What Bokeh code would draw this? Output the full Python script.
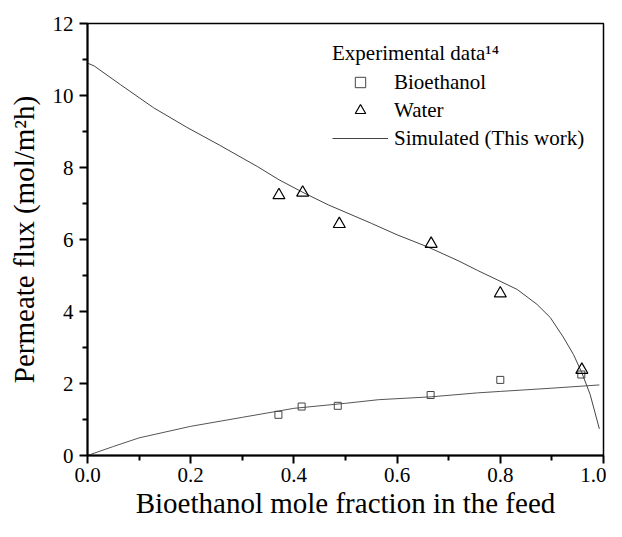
from bokeh.plotting import figure
from bokeh.models import Legend, LegendItem, Range1d, FixedTicker, NumeralTickFormatter
from bokeh.embed import file_html
from bokeh.resources import INLINE

# Experimental data (ref. 14)
exp_x_bio = [0.370, 0.415, 0.485, 0.665, 0.800, 0.957]
exp_y_bio = [1.13, 1.36, 1.38, 1.68, 2.10, 2.25]
exp_x_water = [0.371, 0.417, 0.488, 0.666, 0.800, 0.958]
exp_y_water = [7.23, 7.30, 6.43, 5.88, 4.50, 2.38]

# Simulated (This work)
sim_x_water = [0.0, 0.013, 0.064, 0.128, 0.192, 0.256, 0.33, 0.371, 0.42, 0.467, 0.55, 0.6,
               0.66, 0.72, 0.756, 0.794, 0.833, 0.871, 0.897, 0.922, 0.942, 0.958, 0.974, 0.992]
sim_y_water = [10.9, 10.82, 10.30, 9.66, 9.12, 8.62, 8.02, 7.66, 7.29, 6.96, 6.45, 6.13,
               5.79, 5.40, 5.14, 4.88, 4.61, 4.20, 3.83, 3.29, 2.80, 2.30, 1.70, 0.74]
sim_x_bio = [0.0, 0.05, 0.1, 0.2, 0.3, 0.4, 0.5, 0.564, 0.666, 0.756, 0.8, 0.9, 0.992]
sim_y_bio = [0.0, 0.25, 0.49, 0.81, 1.06, 1.31, 1.45, 1.55, 1.63, 1.74, 1.78, 1.87, 1.96]

x_ticks = [0.0, 0.2, 0.4, 0.6, 0.8, 1.0]
x_minor = [0.1, 0.3, 0.5, 0.7, 0.9]
y_ticks = [0, 2, 4, 6, 8, 10, 12]
y_minor = [1, 3, 5, 7, 9, 11]

FONT = "Liberation Serif"

p = figure(width=606, height=521, output_backend="svg", toolbar_location=None,
           x_range=Range1d(0, 1), y_range=Range1d(0, 12),
           min_border_left=87, min_border_right=3, min_border_top=23, min_border_bottom=66)
p.xgrid.visible = False
p.ygrid.visible = False
p.outline_line_color = "black"
p.outline_line_width = 1.5

p.xaxis.ticker = FixedTicker(ticks=x_ticks, minor_ticks=x_minor)
p.xaxis.formatter = NumeralTickFormatter(format="0.0")
p.yaxis.ticker = FixedTicker(ticks=y_ticks, minor_ticks=y_minor)
for ax in (p.xaxis, p.yaxis):
    ax.axis_line_width = 2
    ax.axis_line_color = "black"
    ax.major_tick_line_width = 2
    ax.minor_tick_line_width = 2
    ax.major_tick_in = 0
    ax.major_tick_out = 8
    ax.minor_tick_in = 0
    ax.minor_tick_out = 5
    ax.major_label_text_font = FONT
    ax.major_label_text_font_size = "21px"
    ax.major_label_text_color = "black"
    ax.axis_label_text_font = FONT
    ax.axis_label_text_font_size = "29px"
    ax.axis_label_text_font_style = "normal"
    ax.axis_label_text_color = "black"
p.xaxis.axis_label = "Bioethanol mole fraction in the feed"
p.yaxis.axis_label = "Permeate flux (mol/m\u00b2h)"
p.xaxis.major_label_standoff = 4
p.yaxis.major_label_standoff = 6
p.xaxis.axis_label_standoff = 2
p.yaxis.axis_label_standoff = 10

r_wline = p.line(sim_x_water, sim_y_water, line_color="#444444", line_width=1)
r_bline = p.line(sim_x_bio, sim_y_bio, line_color="#555555", line_width=1)
r_sq = p.scatter(exp_x_bio, exp_y_bio, marker="square", size=7, fill_color=None,
                 line_color="#444444", line_width=1)
r_tri = p.scatter(exp_x_water, exp_y_water, marker="triangle", size=12, fill_color=None,
                  line_color="black", line_width=1.2)

legend = Legend(
    items=[LegendItem(label="Bioethanol", renderers=[r_sq]),
           LegendItem(label="Water", renderers=[r_tri]),
           LegendItem(label="Simulated (This work)", renderers=[r_wline])],
    location=(245, 304),
    title="Experimental data\u00b9\u2074",
    title_text_font=FONT, title_text_font_size="21px", title_text_font_style="normal",
    title_text_color="black", title_standoff=3,
    label_text_font=FONT, label_text_font_size="21px", label_text_color="black",
    glyph_width=56, glyph_height=26, label_height=20, spacing=2, label_standoff=6,
    padding=0, margin=0, border_line_color=None, background_fill_alpha=0,
)
p.add_layout(legend)

open("out.html", "w").write(file_html(p, INLINE))
